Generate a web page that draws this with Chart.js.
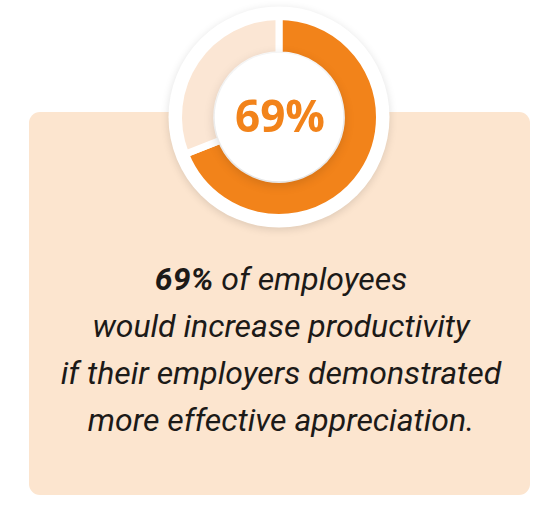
<!DOCTYPE html>
<html>
<head>
<meta charset="utf-8">
<script src="https://cdn.jsdelivr.net/npm/chart.js@4/dist/chart.umd.min.js"></script>
<style>
  html, body { margin: 0; padding: 0; background: #fff; }
  body { width: 558px; height: 524px; position: relative; overflow: hidden; }
  .panel {
    position: absolute; left: 29px; top: 112px; width: 501px; height: 383px;
    background: #fce5cf; border-radius: 11px;
  }
  .donut { position: absolute; left: 149px; top: -13px; width: 260px; height: 260px; }
  .caption {
    position: absolute; left: 2px; width: 558px; top: 256px;
    text-align: center; font-family: Roboto, sans-serif; font-style: italic;
    font-size: 32px; line-height: 47px; color: #1c1a18;
  }
  .caption b { font-weight: 700; }
</style>
</head>
<body>
<div class="panel"></div>
<div class="donut"><canvas id="donut" width="260" height="260"></canvas></div>
<div class="caption" id="caption"></div>

<script>
// ── data ──
const SEGMENTS = ['Would increase productivity', 'Other'];
const SHARES   = [69, 31];
const COLORS   = ['#f2831a', '#fbe6d4'];
const LINES    = [
  'of employees',
  'would increase productivity',
  'if their employers demonstrated',
  'more effective appreciation.'
];

const pct = SHARES[0] + '%';
document.getElementById('caption').innerHTML =
  `<div><b>${pct}</b> ${LINES[0]}</div>` +
  LINES.slice(1).map(l => `<div>${l}</div>`).join('');

// white plate behind the ring, white disc + label in the hole
const discPlugin = {
  id: 'disc',
  beforeDatasetsDraw(chart) {
    const arc = chart.getDatasetMeta(0).data[0];
    const ctx = chart.ctx;
    ctx.save();
    ctx.shadowColor = 'rgba(0,0,0,0.13)';
    ctx.shadowBlur = 8;
    ctx.shadowOffsetY = 2;
    ctx.fillStyle = '#fff';
    ctx.beginPath();
    ctx.arc(arc.x, arc.y, arc.outerRadius + 10, 0, Math.PI * 2);
    ctx.fill();
    ctx.restore();
  },
  afterDatasetsDraw(chart) {
    const arc = chart.getDatasetMeta(0).data[0];
    const ctx = chart.ctx;
    ctx.save();
    ctx.shadowColor = 'rgba(0,0,0,0.16)';
    ctx.shadowBlur = 12;
    ctx.shadowOffsetY = 3;
    ctx.fillStyle = '#fff';
    ctx.beginPath();
    ctx.arc(arc.x, arc.y, arc.innerRadius + 2, 0, Math.PI * 2);
    ctx.fill();
    ctx.restore();

    ctx.save();
    ctx.fillStyle = COLORS[0];
    ctx.font = 'bold 44px "Open Sans", sans-serif';
    ctx.textAlign = 'center';
    ctx.textBaseline = 'middle';
    ctx.fillText(pct, arc.x + 1, arc.y + 2);
    ctx.restore();
  }
};

new Chart(document.getElementById('donut'), {
  type: 'doughnut',
  data: {
    labels: SEGMENTS,
    datasets: [{
      data: SHARES,
      backgroundColor: COLORS,
      borderColor: '#ffffff',
      borderWidth: 7,
      hoverOffset: 0
    }]
  },
  options: {
    responsive: false,
    animation: false,
    cutout: '62%',
    layout: { padding: 26 },
    plugins: { legend: { display: false }, tooltip: { enabled: false } }
  },
  plugins: [discPlugin]
});
</script>
</body>
</html>
